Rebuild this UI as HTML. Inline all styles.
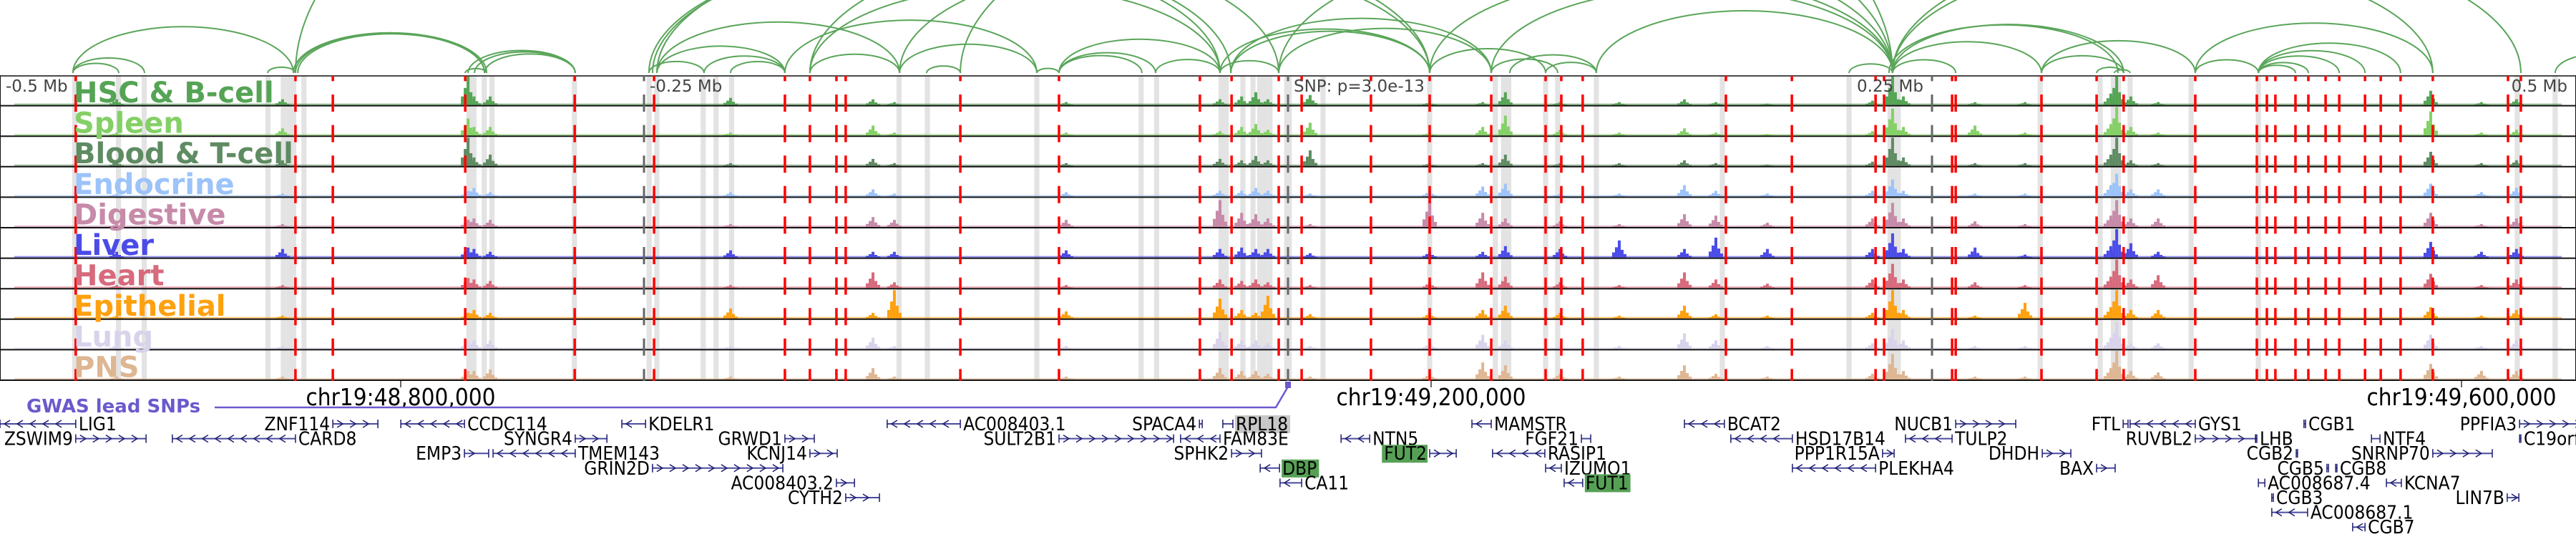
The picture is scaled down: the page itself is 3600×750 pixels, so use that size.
<!DOCTYPE html>
<html><head><meta charset="utf-8"><style>
html,body{margin:0;padding:0;background:#fff;width:3600px;height:750px;overflow:hidden}
svg{display:block}
.lbl{font-family:"DejaVu Sans","Liberation Sans",sans-serif;font-weight:bold;font-size:40px}
.mb{font-family:"DejaVu Sans","Liberation Sans",sans-serif;font-size:23px;fill:#444}
.gene{font-family:"DejaVu Sans Condensed","DejaVu Sans","Liberation Sans",sans-serif;font-stretch:condensed;font-size:26px;fill:#000}
.chr{font-family:"DejaVu Sans Condensed","DejaVu Sans","Liberation Sans",sans-serif;font-stretch:condensed;font-size:33px;fill:#000}
</style></head><body>
<svg id="fig" width="3600" height="750" viewBox="0 0 3600 750" xmlns="http://www.w3.org/2000/svg">
<g id="bands"></g>
<g id="arcs"></g>
<g id="signals"></g>
<g id="vlines"></g>
<g id="labels"></g>
<g id="axis"></g>
<g id="genes"></g>
</svg>
<script>
// ---- data (positions in kb relative to the lead SNP) ----
const trackNames = ["HSC & B-cell","Spleen","Blood & T-cell","Endocrine","Digestive","Liver","Heart","Epithelial","Lung","PNS"];
const trackColors = ["#55a455","#84d066","#5f8b63","#9cc3fa","#c78aa9","#4b4be8","#d76a7c","#ffa00e","#d9d2eb","#deb692"];
const peakPos = [-454.7,-390.3,-318.3,-316,-309.7,-216.4,-161.1,-152.8,-86.1,-26.4,-18,-12.5,-7.8,8.6,55,75.6,84.4,105.6,128.6,153.9,166.1,186.1,226.9,234.7,238.9,266.7,286.1,319.4,321.7,327.2,337.8,443.6,463.3,476.9];
const peakHSC   = [.2,.2,1,.3,.3,.25,.2,.1,.1,.2,.3,.45,.2,.35,.1,.1,.45,.1,.1,.2,.1,.05,.15,1,.3,.1,.1,.4,1,.3,.1,.5,.1,.2];
const peakSpleen= [.1,.25,.6,.3,.3,.1,.35,.1,.1,.15,.3,.4,.2,.45,.1,.3,.7,.2,.1,.25,.1,.05,.15,.95,.3,.35,.1,.4,1,.3,.1,.85,.1,.2];
const peakBlood = [.15,.2,1,.3,.4,.1,.25,.1,.1,.25,.2,.35,.2,.55,.1,.1,.4,.1,.1,.2,.1,.05,.15,1,.3,.1,.1,.4,1,.2,.1,.5,.1,.2];
const peakEndo  = [.1,.1,.2,.3,.15,.15,.25,.1,.15,.2,.2,.3,.2,.1,.2,.35,.45,.1,.1,.4,.2,.1,.2,.6,.2,.1,.1,.4,.8,.25,.25,.45,.15,.3];
const peakDig   = [.1,.1,.25,.3,.25,.1,.35,.25,.25,.95,.5,.45,.3,.1,.9,.5,.3,.2,.1,.45,.4,.15,.3,.85,.3,.2,.1,.4,.95,.3,.3,.5,.1,.3];
const peakLiver = [.2,.3,.35,.3,.2,.25,.2,.2,.25,.3,.35,.3,.3,.15,.2,.2,.4,.3,.6,.3,.7,.3,.3,.85,.3,.35,.1,.4,1,.5,.2,.55,.2,.3];
const peakHeart = [.1,.1,.35,.3,.25,.1,.55,.2,.1,.3,.25,.3,.2,.1,.2,.55,.4,.2,.1,.55,.3,.15,.3,.85,.3,.2,.1,.4,1,.3,.45,.5,.1,.3];
const peakEpi   = [.1,.1,.2,.3,.2,.35,.2,1,.25,.7,.3,.2,.8,.15,.2,.3,.45,.2,.1,.45,.15,.1,.2,1,.3,.1,.55,.4,1,.3,.3,.4,.1,.3];
const peakLung  = [.15,.1,.3,.3,.3,.1,.4,.1,.1,.6,.3,.3,.2,.1,.2,.5,.3,.1,.1,.55,.3,.1,.2,.7,.3,.1,.1,.4,.95,.2,.2,.5,.1,.3];
const peakPNS   = [.1,.1,.3,.3,.35,.1,.4,.1,.1,.4,.3,.3,.2,.1,.2,.6,.5,.2,.1,.5,.2,.1,.2,.9,.3,.1,.1,.4,1,.3,.25,.55,.3,.3];
const peakSeries = [peakHSC,peakSpleen,peakBlood,peakEndo,peakDig,peakLiver,peakHeart,peakEpi,peakLung,peakPNS];

const snpLines = [-470.6,-385.3,-370.8,-319.4,-276.9,-246.1,-195.3,-185.6,-175.3,-171.7,-127.2,-88.9,-34.2,-21.9,-3.6,5.3,32.2,55,78.9,100,106.1,114.4,170,195.6,228.1,231.4,257.8,259.2,292.5,313.9,324.4,352.2,376.1,380,383.3,391.1,396.1,402.8,408.1,418.1,424.2,431.9,444.4,473.6,478.6];
const refLines = [-250,0,250];
const bandStart = [-472,-455,-445,-397,-391,-389,-383,-319,-313,-310,-278,-249,-246,-228,-223,-217,-152,-141,-98.5,-58,-52,-27,-18.5,-14.6,-12,-10,-8,-1.5,12.6,54,79.5,82.7,99,103.7,118.7,167.6,216.8,232.7,235.9,291,314.3,319.4,325.9,349.6,375.7,476.2,490.9];
const bandEnd   = [-470,-453,-443,-395,-389,-385,-381,-315,-311,-308,-276,-247,-244,-226,-221,-215,-150,-139,-96.5,-56,-50,-23,-16.5,-12.6,-10,-8,-6,1.5,14.6,56,81.5,86.7,101,105.7,120.7,169.6,218.8,236.7,237.9,293,316.3,323.4,327.9,351.6,377.7,478.2,492.9];

const arcFrom = [-471.7,-471.7,-471.7,-396.1,-386.1,-385.3,-384.4,-385.3,-318.3,-315.8,-311.9,-319.4,-248.1,-248.1,-246.7,-245,-245,-226.7,-216.4,-245,-195.3,-185.6,-185.6,-150.8,-140.3,-97.5,-88.9,-88.9,-150.8,-88.9,-51.4,-26.4,-22.2,-22.2,-3.6,-26.4,55,78.9,86.1,119.7,100,78.9,217.8,234.7,234.7,234.7,233.3,292.5,313.9,320.8,292.5,352.2,376.7,376.7,376.7,376.7,376.7,352.2,234.7,491.9,55,-3.6,234.7,-127.2,-185.6];
const arcTo   = [-453.9,-443.9,-386.1,-385.3,-311.9,-311.1,-311.9,234.7,-276.7,-276.7,-276.7,-311.1,-226.7,-26.4,-22.2,-3.6,-195.3,-195.3,-195.3,-150.8,-97.5,-150.8,55,-97.5,-127.2,-88.9,-56.7,-51.4,55,-26.4,-26.4,55,55,78.9,78.9,-3.6,100,104.7,119.7,234.7,119.7,234.7,234.7,259.2,292.5,324.4,322.2,324.4,324.4,326.9,352.2,444.4,391.1,396.1,408.1,418.1,431.9,376.7,478.6,527.8,234.7,234.7,444.4,234.7,-26.4];

const geneName  = ["LIG1","ZSWIM9","ZNF114","CARD8","CCDC114","SYNGR4","EMP3","TMEM143","GRIN2D","KDELR1","GRWD1","KCNJ14","AC008403.2","CYTH2","AC008403.1","SULT2B1","SPACA4","RPL18","FAM83E","SPHK2","DBP","CA11","NTN5","FUT2","MAMSTR","FGF21","RASIP1","IZUMO1","FUT1","BCAT2","HSD17B14","PPP1R15A","PLEKHA4","NUCB1","TULP2","DHDH","BAX","FTL","GYS1","RUVBL2","LHB","CGB2","CGB1","CGB5","CGB8","AC008687.4","CGB3","AC008687.1","CGB7","NTF4","SNRNP70","KCNA7","LIN7B","PPFIA3","C19orf25"];
const geneRow   = [0,1,0,1,0,1,2,2,3,0,1,2,4,5,0,1,0,0,1,2,3,4,1,2,0,1,2,3,4,0,1,2,3,0,1,2,3,0,0,1,1,2,0,3,3,4,5,6,7,1,2,4,5,0,1];
const geneStart = [-500,-470.6,-370.8,-433.1,-344.4,-276.7,-319.7,-308.6,-246.7,-258.6,-195.3,-185.6,-175.3,-171.7,-155.6,-88.9,-34.4,-25.3,-41.7,-21.9,-10.8,-3.1,20.6,55,71.4,113.9,79.4,100,107.2,153.9,171.9,230.8,195.8,259.2,239.7,292.8,313.9,324.2,326.9,352.2,375.6,391.4,394.4,403.3,406.7,376.7,381.9,381.9,413.3,420.6,444.4,426.4,473.3,478.1,478.1];
const geneEnd   = [-470.6,-443.3,-353.3,-385.3,-319.7,-264.4,-310.3,-276.7,-196.1,-249.4,-183.9,-175,-168.3,-158.6,-127.2,-44.4,-33.3,-21.4,-26.4,-10.3,-3.3,5.3,31.7,65.3,78.9,117.5,99.7,106.1,114.4,169.4,195.8,235.3,228.1,282.5,257.8,303.9,321.1,326.1,352.2,375.6,376.1,391.9,395,403.9,407.2,379.2,382.5,395.8,418.1,423.9,467.5,432.2,477.8,502.8,478.6];
const geneStrand= ["-","+","+","-","-","+","+","-","+","-","+","+","+","+","-","+","+","-","-","+","-","-","-","+","-","+","-","-","-","-","-","+","-","+","-","+","+","+","-","+","-","+","-","+","-","-","-","-","-","-","+","-","+","+","-"];
const geneHilite= ["","","","","","","","","","","","","","","","","","gray","","","green","","","green","","","","","green","","","","","","","","","","","","","","","","","","","","","","","","","",""];
const axisTicks = [-344.444,55.556,455.556];
const axisTickLabels = ["chr19:48,800,000","chr19:49,200,000","chr19:49,600,000"];
const mbPos = [-500,-250,0,250,500];
const mbText = ["-0.5 Mb","-0.25 Mb","SNP: p=3.0e-13","0.25 Mb","0.5 Mb"];
const gwasSnp = [0];

// ---- scales ----
const NS="http://www.w3.org/2000/svg";
const X = kb => 1800 + kb*3.6;
const TOP=106, TH=42.6, NT=trackNames.length, BOT=TOP+TH*NT;
const trackTop = i => TOP + i*TH;
function mk(tag, attrs, parent){const e=document.createElementNS(NS,tag);for(const k in attrs)e.setAttribute(k,attrs[k]);parent.appendChild(e);return e;}

// bands
const gB=document.getElementById('bands');
bandStart.forEach((s,i)=>{
  const r=mk('rect',{x:X(s),y:TOP,width:Math.max(3,X(bandEnd[i])-X(s)),height:BOT-TOP,fill:'#e3e3e3'},gB);
  
  
});

// arcs
const gA=document.getElementById('arcs');
arcFrom.forEach((a,i)=>{
  const x1=X(Math.min(a,arcTo[i])), x2=X(Math.max(a,arcTo[i]));
  const rx=(x2-x1)/2, ry=0.42*rx, by=102;
  const p=mk('path',{d:`M${x1},${by} A${rx},${ry} 0 0 1 ${x2},${by}`,fill:'none',stroke:'#5aa55a','stroke-width':2},gA);
  
  
});

// signal tracks
const gS=document.getElementById('signals');
for(let t=0;t<NT;t++){
  const g=mk('g',{},gS);
  
  
  const base=trackTop(t)+TH-2;
  mk('rect',{x:20,y:base-2,width:3560,height:2,fill:trackColors[t],opacity:0.6},g);
  peakPos.forEach((p,i)=>{
    const h=peakSeries[t][i]*(TH-3), cx=X(p);
    const steps=[[0,1],[-4,0.6],[4,0.45],[-8,0.3],[8,0.2]];
    steps.forEach(s=>{
      const hh=h*s[1];
      const b=mk('rect',{x:cx+s[0]-2,y:base-hh,width:4,height:hh,fill:trackColors[t]},g);
      
      
    });
  });
  const ln=mk('line',{x1:0,x2:3600,y1:trackTop(t)+TH-1,y2:trackTop(t)+TH-1,stroke:'#111','stroke-width':2},g);
  
  
}
mk('line',{x1:0,x2:3600,y1:TOP,y2:TOP,stroke:'#111','stroke-width':1.5},gS);
mk('line',{x1:0.5,x2:0.5,y1:TOP,y2:BOT,stroke:'#111','stroke-width':1},gS);
mk('line',{x1:3599.5,x2:3599.5,y1:TOP,y2:BOT,stroke:'#111','stroke-width':1},gS);

// vertical lines
const gV=document.getElementById('vlines');
refLines.forEach(k=>{
  const l=mk('line',{x1:X(k),x2:X(k),y1:TOP,y2:BOT,stroke:'#666','stroke-width':3,'stroke-dasharray':'24 18.6','stroke-dashoffset':16.6},gV);
  
  
});
snpLines.forEach(k=>{
  const l=mk('line',{x1:X(k),x2:X(k),y1:TOP,y2:BOT,stroke:'#f00','stroke-width':3.5,'stroke-dasharray':'24 18.6','stroke-dashoffset':16.6},gV);
  
  
});

// labels
const gL=document.getElementById('labels');
trackNames.forEach((n,i)=>{
  const tx=mk('text',{x:103,y:trackTop(i)+37,class:'lbl',fill:trackColors[i]},gL);
  tx.textContent=n;
  
  
});
mbPos.forEach((k,i)=>{
  const anchor = k>0 ? 'end':'start';
  const x = k>0 ? X(k)-12 : X(k)+8;
  const tx=mk('text',{x:x,y:128,class:'mb','text-anchor':anchor},gL);
  tx.textContent=mbText[i];
  
  
});

// axis
const gX=document.getElementById('axis');
axisTicks.forEach((k,i)=>{
  mk('line',{x1:X(k),x2:X(k),y1:BOT,y2:BOT+9,stroke:'#333','stroke-width':1.5},gX);
  const tx=mk('text',{x:X(k),y:566,class:'chr','text-anchor':'middle'},gX);
  tx.textContent=axisTickLabels[i];
  
  
});
const gw=mk('text',{x:37,y:576,fill:'#6a5acd','font-family':'DejaVu Sans, Liberation Sans, sans-serif','font-weight':'bold','font-size':'26px'},gX);
gw.textContent='GWAS lead SNPs';


gwasSnp.forEach(k=>{
  const p=mk('path',{d:`M300,569 L${X(k)-17},569 L${X(k)},540`,fill:'none',stroke:'#6a5acd','stroke-width':2.5},gX);
  
  
  const r=mk('rect',{x:X(k)-4,y:533,width:8,height:9,fill:'#6a5acd'},gX);
  
  
});

// genes
const gG=document.getElementById('genes');
const rowY = r => 592 + r*20.6;
geneName.forEach((n,i)=>{
  const g=mk('g',{},gG);
  
  
  const x1=X(geneStart[i]), x2=X(geneEnd[i]), y=rowY(geneRow[i]);
  mk('line',{x1:x1,x2:Math.max(x2,x1+1.5),y1:y,y2:y,stroke:'#4b4b9e','stroke-width':2},g);
  mk('line',{x1:x1,x2:x1,y1:y-6,y2:y+6,stroke:'#1c1c6e','stroke-width':1.5},g);
  mk('line',{x1:x2,x2:x2,y1:y-6,y2:y+6,stroke:'#1c1c6e','stroke-width':1.5},g);
  const dir = geneStrand[i]==='+'?1:-1;
  for(let cx=x1+10; cx<x2-6; cx+=18){
    mk('polyline',{points:`${cx-4*dir},${y-5} ${cx+4*dir},${y} ${cx-4*dir},${y+5}`,fill:'none',stroke:'#1c1c6e','stroke-width':1.5},g);
  }
  const right = geneStrand[i]==='-';
  const lx = right ? x2+4 : x1-4;
  const tx=mk('text',{x:lx,y:y+9,class:'gene','text-anchor':right?'start':'end'},g);
  tx.textContent=n;
  if(geneHilite[i]){
    const w=tx.getComputedTextLength ? tx.getComputedTextLength()+4 : n.length*14;
    const bx = right ? lx-1 : lx-w+1;
    const r=mk('rect',{x:bx,y:y-12,width:w,height:25,fill:geneHilite[i]==='green'?'#56a056':'#c8c8c8'},g);
    g.insertBefore(r,tx);
    if(geneHilite[i]==='green') tx.setAttribute('fill','#fff');
  }
});
</script>
</body></html>
